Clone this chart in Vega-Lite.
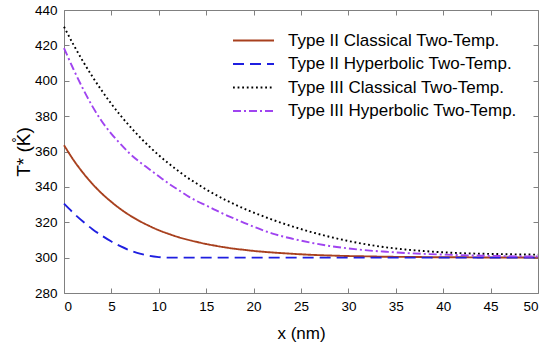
{
  "$schema": "https://vega.github.io/schema/vega-lite/v6.json",
  "width": 474,
  "height": 283,
  "autosize": {"type": "none"},
  "padding": {"left": 64, "top": 10, "right": 12, "bottom": 53},
  "background": "white",
  "config": {
    "font": "Liberation Sans",
    "view": {"stroke": "#808080", "strokeWidth": 1},
    "axis": {"domain": false, "grid": false, "tickColor": "#808080", "tickSize": -5, "labelFontSize": 13.5, "labelColor": "#000000", "labelFont": "Liberation Sans", "titleFont": "Liberation Sans", "titleFontWeight": "normal", "titleColor": "#000000"},
    "legend": {"orient": "none", "legendX": 168, "legendY": 23, "padding": 0, "labelFontSize": 17, "labelFont": "Liberation Sans", "labelColor": "#000000", "labelLimit": 0, "symbolSize": 1681, "symbolStrokeWidth": 2, "symbolType": "stroke", "labelOffset": 13, "clipHeight": 15, "rowPadding": 5.5}
  },
  "data": {"values": [
    {"x": 0, "c2": 363.6, "h2": 330.5, "c3": 430.5, "h3": 418.5},
    {"x": 1, "c2": 355.2, "h2": 325.2, "c3": 420.4, "h3": 406.5},
    {"x": 2, "c2": 348.0, "h2": 320.4, "c3": 411.0, "h3": 395.5},
    {"x": 3, "c2": 341.7, "h2": 316.1, "c3": 402.3, "h3": 385.5},
    {"x": 4, "c2": 336.2, "h2": 312.4, "c3": 394.3, "h3": 377.0},
    {"x": 5, "c2": 331.5, "h2": 309.1, "c3": 386.9, "h3": 370.0},
    {"x": 6, "c2": 327.3, "h2": 306.3, "c3": 380.1, "h3": 364.0},
    {"x": 7, "c2": 323.7, "h2": 304.0, "c3": 373.9, "h3": 358.5},
    {"x": 8, "c2": 320.6, "h2": 302.3, "c3": 368.1, "h3": 354.0},
    {"x": 9, "c2": 317.9, "h2": 301.0, "c3": 362.8, "h3": 350.0},
    {"x": 10, "c2": 315.5, "h2": 300.3, "c3": 357.9, "h3": 346.0},
    {"x": 11, "c2": 313.5, "h2": 300.0, "c3": 353.4, "h3": 342.0},
    {"x": 12, "c2": 311.7, "h2": 300.0, "c3": 349.2, "h3": 338.5},
    {"x": 13, "c2": 310.2, "h2": 300.0, "c3": 345.3, "h3": 335.0},
    {"x": 14, "c2": 308.9, "h2": 300.0, "c3": 341.9, "h3": 332.0},
    {"x": 15, "c2": 307.7, "h2": 300.0, "c3": 338.5, "h3": 329.5},
    {"x": 16, "c2": 306.7, "h2": 300.0, "c3": 335.5, "h3": 326.8},
    {"x": 17, "c2": 305.8, "h2": 300.0, "c3": 332.7, "h3": 324.3},
    {"x": 18, "c2": 305.0, "h2": 300.0, "c3": 330.1, "h3": 322.0},
    {"x": 19, "c2": 304.4, "h2": 300.0, "c3": 327.7, "h3": 319.7},
    {"x": 20, "c2": 303.8, "h2": 300.0, "c3": 325.5, "h3": 317.5},
    {"x": 22, "c2": 302.9, "h2": 300.0, "c3": 321.4, "h3": 313.6},
    {"x": 24, "c2": 302.2, "h2": 300.0, "c3": 317.8, "h3": 310.8},
    {"x": 26, "c2": 301.6, "h2": 300.0, "c3": 314.6, "h3": 308.5},
    {"x": 28, "c2": 301.2, "h2": 300.0, "c3": 311.8, "h3": 306.6},
    {"x": 30, "c2": 300.9, "h2": 300.0, "c3": 309.4, "h3": 305.2},
    {"x": 32, "c2": 300.7, "h2": 300.0, "c3": 307.4, "h3": 304.1},
    {"x": 34, "c2": 300.5, "h2": 300.0, "c3": 305.8, "h3": 303.3},
    {"x": 36, "c2": 300.4, "h2": 300.0, "c3": 304.6, "h3": 302.6},
    {"x": 38, "c2": 300.3, "h2": 300.0, "c3": 303.7, "h3": 302.1},
    {"x": 40, "c2": 300.2, "h2": 300.0, "c3": 303.0, "h3": 301.7},
    {"x": 42, "c2": 300.2, "h2": 300.0, "c3": 302.5, "h3": 301.4},
    {"x": 44, "c2": 300.1, "h2": 300.0, "c3": 302.2, "h3": 301.1},
    {"x": 46, "c2": 300.1, "h2": 300.0, "c3": 302.0, "h3": 300.9},
    {"x": 48, "c2": 300.1, "h2": 300.0, "c3": 301.8, "h3": 300.7},
    {"x": 50, "c2": 300.0, "h2": 300.0, "c3": 301.7, "h3": 300.6}
  ]},
  "transform": [{"fold": ["c2", "h2", "c3", "h3"], "as": ["series", "T"]}],
  "layer": [
    {
      "mark": {"type": "line", "interpolate": "monotone", "strokeWidth": 1.9},
      "encoding": {
        "x": {"field": "x", "type": "quantitative", "scale": {"domain": [0, 50], "nice": false},
          "axis": {"values": [0, 5, 10, 15, 20, 25, 30, 35, 40, 45, 50], "title": "x (nm)", "titleFontSize": 17, "labelPadding": 11, "titleY": 45, "titleBaseline": "alphabetic"}},
        "y": {"field": "T", "type": "quantitative", "scale": {"domain": [280, 440], "nice": false, "zero": false},
          "axis": {"values": [280, 300, 320, 340, 360, 380, 400, 420, 440], "title": "T* (K\u030a)", "titleFontSize": 19, "labelPadding": 12, "titleX": -35, "titleBaseline": "alphabetic"}},
        "color": {"field": "series", "type": "nominal",
          "scale": {"domain": ["c2", "h2", "c3", "h3"], "range": ["#a8401e", "#1f1fe0", "#000000", "#a044f0"]},
          "legend": {"title": null, "labelExpr": "{'c2': 'Type II Classical Two-Temp.', 'h2': 'Type II Hyperbolic Two-Temp.', 'c3': 'Type III Classical Two-Temp.', 'h3': 'Type III Hyperbolic Two-Temp.'}[datum.value]"}},
        "strokeDash": {"field": "series", "type": "nominal",
          "scale": {"domain": ["c2", "h2", "c3", "h3"], "range": [[1, 0], [11, 6], [1.8, 2.8], [8, 3, 2, 3]]},
          "legend": {"title": null, "labelExpr": "{'c2': 'Type II Classical Two-Temp.', 'h2': 'Type II Hyperbolic Two-Temp.', 'c3': 'Type III Classical Two-Temp.', 'h3': 'Type III Hyperbolic Two-Temp.'}[datum.value]"}}
      }
    },
    {
      "mark": {"type": "point", "opacity": 0},
      "encoding": {
        "x": {"field": "x", "type": "quantitative", "axis": {"orient": "top", "labels": false, "title": null, "values": [0, 5, 10, 15, 20, 25, 30, 35, 40, 45, 50]}},
        "y": {"field": "T", "type": "quantitative", "axis": {"orient": "right", "labels": false, "title": null, "values": [280, 300, 320, 340, 360, 380, 400, 420, 440]}}
      }
    }
  ],
  "resolve": {"axis": {"x": "independent", "y": "independent"}}
}
